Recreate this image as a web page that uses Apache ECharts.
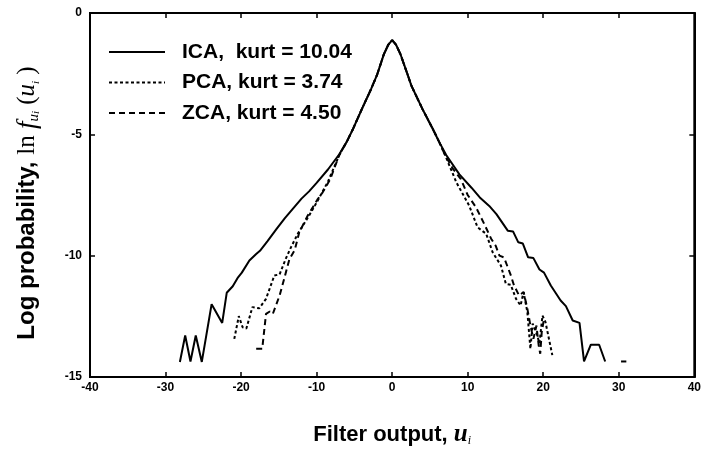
<!DOCTYPE html>
<html>
<head>
<meta charset="utf-8">
<script src="https://cdn.jsdelivr.net/npm/echarts@6/dist/echarts.min.js"></script>
<style>html,body{margin:0;padding:0;background:#fff}#c{width:704px;height:452px}</style>
</head>
<body>
<div id="c"></div>
<script>
var seriesNames = ['ICA,  kurt = 10.04', 'PCA, kurt = 3.74', 'ZCA, kurt = 4.50'];
var xTicks = [-40, -30, -20, -10, 0, 10, 20, 30, 40];
var yTicks = [-15, -10, -5, 0];

var centerShared = [[-6.0,-5.3],[-5.2,-4.79],[-4.0,-3.95],[-2.77,-3.12],[-2.0,-2.55],[-1.1,-1.7],[-0.5,-1.3],[0,-1.12],[0.5,-1.3],[1.1,-1.7],[2.0,-2.5],[2.55,-3.0],[4.0,-3.95],[5.4,-4.79],[6.2,-5.3]];

var icaLeft = [[-28.1,-14.38],[-27.4,-13.29],[-26.7,-14.36],[-26.0,-13.29],[-25.2,-14.38],[-23.9,-12.0],[-22.5,-12.77],[-21.9,-11.53],[-21.1,-11.26],[-20.4,-10.89],[-19.9,-10.7],[-18.9,-10.2],[-18.0,-9.93],[-17.5,-9.8],[-16.5,-9.4],[-15.3,-8.9],[-14.2,-8.45],[-13.1,-8.05],[-12.0,-7.65],[-11.0,-7.35],[-10.0,-7.0],[-8.5,-6.45],[-7.0,-5.82]];
var icaRight = [[7.15,-5.85],[8.9,-6.65],[10.5,-7.2],[11.6,-7.6],[12.85,-7.95],[13.8,-8.29],[15.3,-8.97],[16.0,-9.0],[16.7,-9.45],[17.3,-9.5],[18.0,-10.07],[18.7,-10.1],[19.5,-10.57],[20.1,-10.7],[21.0,-11.23],[22.3,-11.85],[23.0,-12.08],[23.9,-12.67],[24.8,-12.77],[25.4,-14.36],[26.3,-13.67],[27.4,-13.67],[28.2,-14.36]];
var icaTail = [[30.3,-14.36],[31.0,-14.36]];

var pcaLeft = [[-20.9,-13.43],[-20.3,-12.49],[-19.8,-12.95],[-19.3,-13.0],[-18.5,-12.12],[-17.6,-12.17],[-16.7,-11.78],[-15.6,-10.82],[-14.9,-10.77],[-14.1,-10.14],[-13.4,-9.66],[-12.5,-9.1],[-11.0,-8.35],[-9.8,-7.7],[-8.5,-6.95],[-7.0,-5.85]];
var pcaRight = [[7.0,-5.85],[8.5,-6.98],[10.2,-7.94],[11.3,-8.83],[12.45,-9.1],[13.3,-9.86],[14.4,-10.41],[15.05,-11.16],[15.7,-11.2],[16.4,-11.78],[17.0,-12.05],[17.4,-11.5],[17.9,-12.33],[18.3,-13.84],[18.6,-12.8],[19.1,-13.2],[19.5,-13.6],[19.9,-12.47],[20.3,-12.74],[21.2,-14.1]];

var zcaLeft = [[-18.0,-13.84],[-17.2,-13.84],[-16.7,-12.4],[-16.2,-12.3],[-15.8,-12.4],[-14.9,-11.64],[-14.3,-10.96],[-13.6,-10.14],[-12.9,-9.77],[-12.3,-9.04],[-11.2,-8.36],[-9.85,-7.67],[-9.2,-7.39],[-8.2,-6.85],[-7.0,-5.85]];
var zcaRight = [[7.0,-5.85],[8.0,-6.4],[9.1,-6.85],[10.0,-7.5],[11.1,-8.01],[12.2,-8.7],[13.1,-9.3],[13.7,-9.59],[14.2,-10.0],[14.8,-10.07],[15.7,-10.8],[16.1,-11.2],[16.8,-11.64],[17.4,-11.5],[17.9,-12.19],[18.3,-12.88],[18.7,-13.43],[19.1,-12.88],[19.4,-13.7],[19.6,-14.04],[19.8,-13.15],[20.1,-12.6]];

var icaData = icaLeft.concat(centerShared, icaRight);
var pcaData = pcaLeft.concat(centerShared, pcaRight);
var zcaData = zcaLeft.concat(centerShared, zcaRight);

var chart = echarts.init(document.getElementById('c'), null, {renderer: 'canvas'});
var tickFont = {color: '#000', fontFamily: 'Liberation Sans', fontWeight: 'bold', fontSize: 12};
function lineSeries(name, data, type, width) {
  return {
    name: name, type: 'line', data: data, symbol: 'none', showSymbol: false, smooth: false,
    animation: false, clip: true, color: '#000',
    itemStyle: {color: '#000'},
    lineStyle: {color: '#000', width: width, type: type}
  };
}
function axisCommon(extra) {
  return Object.assign({
    axisLine: {show: true, onZero: false, lineStyle: {color: '#000', width: 2}},
    axisTick: {show: true, inside: true, length: 5, lineStyle: {color: '#000', width: 1.5}},
    splitLine: {show: false}
  }, extra);
}
chart.setOption({
  backgroundColor: '#fff',
  animation: false,
  grid: {left: 90, right: 9, top: 13, bottom: 74, show: true, borderColor: '#000', borderWidth: 2, containLabel: false},
  legend: {
    data: seriesNames,
    orient: 'vertical', left: 103, top: 36,
    itemWidth: 56, itemHeight: 14, itemGap: 8.5,
    itemStyle: {opacity: 0},
    textStyle: {color: '#000', fontFamily: 'Liberation Sans', fontWeight: 'bold', fontSize: 21, lineHeight: 22, padding: [0, 0, 0, 12]}
  },
  xAxis: [axisCommon({
    type: 'value', min: -40, max: 40, interval: 10, position: 'bottom',
    axisLabel: Object.assign({margin: 5, formatter: function(v){ return xTicks.indexOf(v) >= 0 ? String(v) : ''; }}, tickFont),
    name: '{a|Filter output, }{u|u}{s|i}',
    nameLocation: 'middle', nameGap: 45,
    nameTextStyle: {rich: {
      a: {fontFamily: 'Liberation Sans', fontWeight: 'bold', fontSize: 22, color: '#000'},
      u: {fontFamily: 'Liberation Serif', fontStyle: 'italic', fontWeight: 'bold', fontSize: 25, color: '#000'},
      s: {fontFamily: 'Liberation Serif', fontStyle: 'italic', fontSize: 12, color: '#000', padding: [12, 0, 0, 0]}
    }}
  }), axisCommon({
    type: 'value', min: -40, max: 40, interval: 10, position: 'top',
    axisLabel: {show: false}
  })],
  yAxis: [axisCommon({
    type: 'value', min: -15, max: 0, interval: 5, position: 'left',
    axisLabel: Object.assign({margin: 8, formatter: function(v){ return yTicks.indexOf(v) >= 0 ? String(v) : ''; }}, tickFont),
    name: '{a|Log probability, }{r|ln }{f|f}{s|u}{t|i}{r| (}{u|u}{t|i}{r| )}',
    nameLocation: 'middle', nameGap: 48, nameRotate: 90,
    nameTextStyle: {padding: [0, 16, 0, 0], rich: {
      a: {fontFamily: 'Liberation Sans', fontWeight: 'bold', fontSize: 24, color: '#000'},
      r: {fontFamily: 'Liberation Serif', fontSize: 25, color: '#000'},
      f: {fontFamily: 'Liberation Serif', fontStyle: 'italic', fontSize: 27, color: '#000'},
      u: {fontFamily: 'Liberation Serif', fontStyle: 'italic', fontSize: 25, color: '#000'},
      s: {fontFamily: 'Liberation Serif', fontStyle: 'italic', fontSize: 15, color: '#000', padding: [14, 0, 0, 0]},
      t: {fontFamily: 'Liberation Serif', fontStyle: 'italic', fontSize: 11, color: '#000', padding: [18, 0, 0, 0]}
    }}
  }), axisCommon({
    type: 'value', min: -15, max: 0, interval: 5, position: 'right',
    axisLabel: {show: false}
  })],
  series: [
    lineSeries(seriesNames[0], icaData, 'solid', 2),
    lineSeries(seriesNames[1], pcaData, [3, 2.5], 2),
    lineSeries(seriesNames[2], zcaData, [6, 4], 2),
    lineSeries(seriesNames[0], icaTail, 'solid', 2)
  ]
});
</script>
</body>
</html>
